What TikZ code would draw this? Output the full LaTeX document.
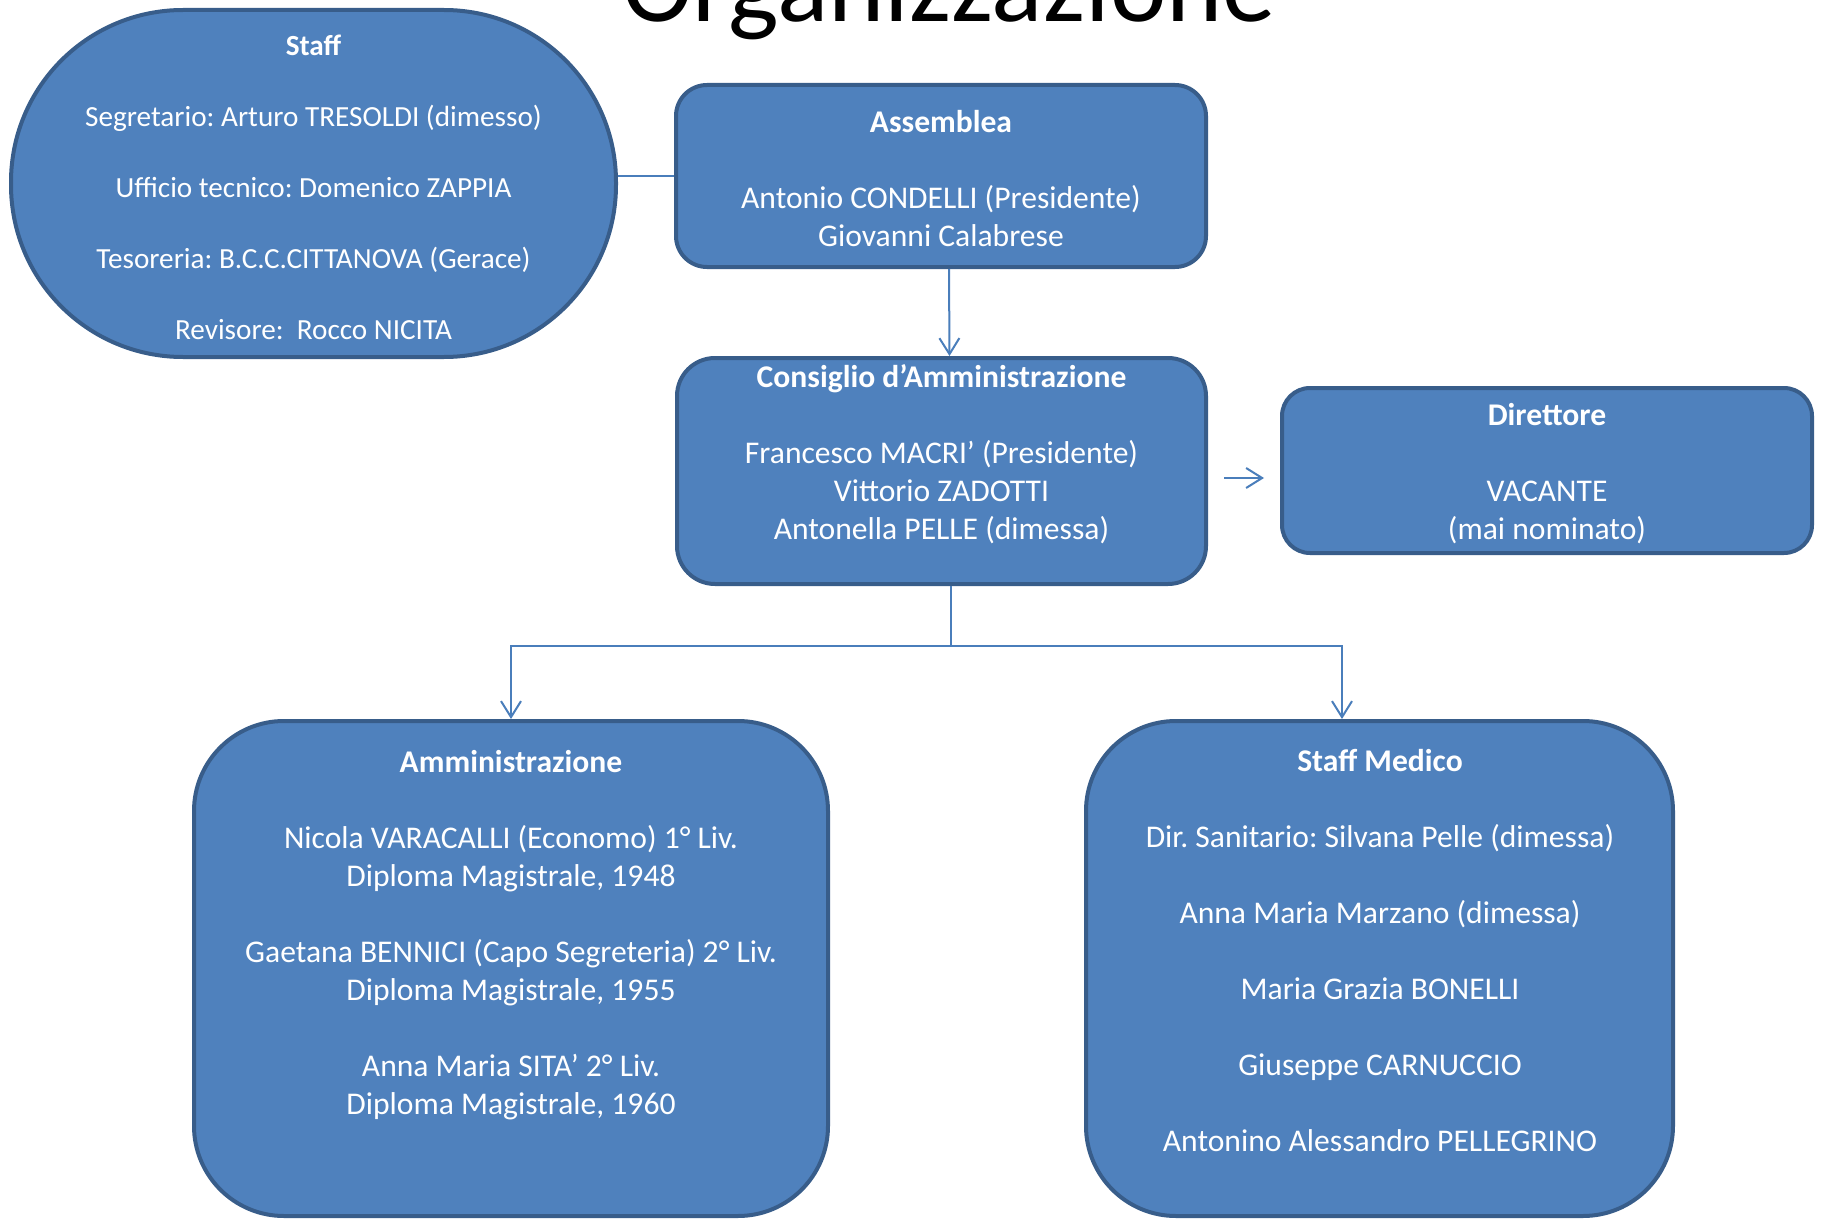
\documentclass[tikz,border=0pt]{standalone}
\usepackage{fontspec}
\setmainfont{Carlito}
\usetikzlibrary{arrows.meta,calc}
\definecolor{boxfill}{HTML}{4F81BD}
\definecolor{boxline}{HTML}{385D8A}
\definecolor{connline}{HTML}{4A7EBB}
\frenchspacing
\begin{document}
\begin{tikzpicture}[x=0.5pt,y=-0.5pt,
  box/.style={draw=boxline, fill=boxfill, line width=2pt, inner sep=0pt},
  txt/.style={text=white, align=center, inner sep=0pt, anchor=north, font=\fontsize{15.8}{19}\selectfont},
  stafftxt/.style={txt, font=\fontsize{14.6}{17.75}\selectfont},
  conn/.style={draw=connline, line width=1pt},
  arr/.style={conn, -{Straight Barb[length=8pt,width=10pt]}}]
\useasboundingbox (0,0) rectangle (1822,1220);
\fill[white] (0,0) rectangle (1822,1220);
\clip (0,0) rectangle (1822,1220);

% title (cut by the top edge, as in the reference)
\node[anchor=base, inner sep=0pt, font=\fontsize{53.5}{60}\selectfont] (title) at (949,22) {Organizzazione};

% shapes
\node[box, minimum width=302.5pt, minimum height=173.5pt, rounded corners=86pt] (staff) at (313.5,183.5) {};
\node[box, minimum width=265pt, minimum height=91pt, rounded corners=15.5pt] (assemblea) at (941,176) {};
\node[box, minimum width=264.5pt, minimum height=113pt, rounded corners=19pt] (consiglio) at (941.5,471) {};
\node[box, minimum width=265pt, minimum height=82.5pt, rounded corners=14pt] (direttore) at (1547,470.5) {};
\node[box, minimum width=317pt, minimum height=247.5pt, rounded corners=45pt] (amm) at (511,968.5) {};
\node[box, minimum width=293.5pt, minimum height=247.5pt, rounded corners=45pt] (med) at (1379.5,968.5) {};

% texts
\node[stafftxt] (stafft) at (313.5,30) {\strut\textbf{Staff}\\[17.75pt]
  Segretario: Arturo TRESOLDI (dimesso)\\[17.75pt]
  Ufficio tecnico: Domenico ZAPPIA\\[17.75pt]
  Tesoreria: B.C.C.CITTANOVA (Gerace)\\[17.75pt]
  Revisore:\ \ Rocco NICITA};
\node[txt] (assemblt) at (941,105.4) {\strut\textbf{Assemblea}\\[19pt]
  Antonio CONDELLI (Presidente)\\
  Giovanni Calabrese};
\node[txt] (consigliot) at (941.5,360.4) {\strut\textbf{Consiglio d’Amministrazione}\\[19pt]
  Francesco MACRI’ (Presidente)\\
  Vittorio ZADOTTI\\
  Antonella PELLE (dimessa)};
\node[txt] (direttoret) at (1547,398.4) {\strut\textbf{Direttore}\\[19pt]
  VACANTE\\
  (mai nominato)};
\node[txt] (ammt) at (511,745.4) {\strut\textbf{Amministrazione}\\[19pt]
  Nicola VARACALLI (Economo) 1° Liv.\\
  Diploma Magistrale, 1948\\[19pt]
  Gaetana BENNICI (Capo Segreteria) 2° Liv.\\
  Diploma Magistrale, 1955\\[19pt]
  Anna Maria SITA’ 2° Liv.\\
  Diploma Magistrale, 1960};
\node[txt] (medt) at (1380,744.4) {\strut\textbf{Staff Medico}\\[19pt]
  Dir. Sanitario: Silvana Pelle (dimessa)\\[19pt]
  Anna Maria Marzano (dimessa)\\[19pt]
  Maria Grazia BONELLI\\[19pt]
  Giuseppe CARNUCCIO\\[19pt]
  Antonino Alessandro PELLEGRINO};

% connectors
\draw[conn] (assemblea.west) -- (assemblea.west -| staff.east);
\draw[arr] ([xshift=4pt]assemblea.south) -- ([xshift=4pt]consiglio.north);
\coordinate (cdA) at ([xshift=8pt,yshift=-3.5pt]consiglio.east);
\coordinate (cdB) at ([xshift=-8pt]cdA -| direttore.west);
\draw[arr] (cdA) -- (cdB);
\coordinate (fork) at ([xshift=4.5pt]consiglio.south);
\coordinate (bar) at ($(fork)+(0,60)$);
\draw[conn] (fork) -- (bar);
\draw[arr] (bar) -| (amm.north);
\draw[arr] (bar) -| ([xshift=-18.75pt]med.north);
\end{tikzpicture}
\end{document}
